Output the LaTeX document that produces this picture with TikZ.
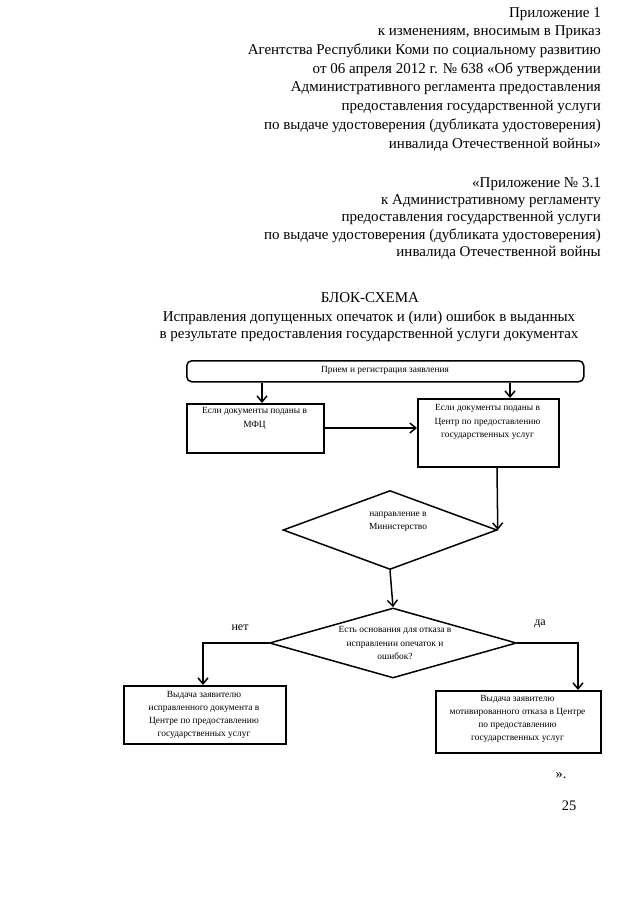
\documentclass[tikz,border=0pt]{standalone}
\usepackage{fontspec}
\setmainfont{Liberation Serif}
\usetikzlibrary{arrows.meta,shapes.geometric}
\begin{document}
\begin{tikzpicture}[x=1pt,y=-1pt,
  hdr/.style={anchor=north east,align=right,inner sep=0pt,font=\fontsize{15}{18.7}\selectfont},
  hdrb/.style={anchor=north east,align=right,inner sep=0pt,font=\fontsize{15}{17.4}\selectfont},
  ttl/.style={align=center,inner sep=0pt,font=\fontsize{15}{17.5}\selectfont},
  box/.style={draw,line width=1.5pt,inner sep=0pt,anchor=north west},
  btxt/.style={align=center,inner sep=0pt,font=\fontsize{9.4}{13.2}\selectfont},
  dia/.style={draw,diamond,line width=1.5pt,inner sep=0pt},
  arr/.style={line width=1.5pt,-{Straight Barb[length=6pt,width=10pt,line width=1.5pt]}},
  lbl/.style={inner sep=0pt,font=\fontsize{12}{14}\selectfont}]
\useasboundingbox[fill=white] (0,0) rectangle (640,905);

\node[hdr] (h1) at (601,7) {Приложение 1\\
к изменениям, вносимым в Приказ\\
Агентства Республики Коми по социальному развитию\\
от 06 апреля 2012 г. № 638 «Об утверждении\\
Административного регламента предоставления\\
предоставления государственной услуги\\
по выдаче удостоверения (дубликата удостоверения)\\
инвалида Отечественной войны»};

\node[hdrb] (h2) at (601,177) {«Приложение № 3.1\\
к Административному регламенту\\
предоставления государственной услуги\\
по выдаче удостоверения (дубликата удостоверения)\\
инвалида Отечественной войны};

\node[ttl] (t1) at (370,298) {БЛОК-СХЕМА};
\node[ttl] (t2) at (369,326) {Исправления допущенных опечаток и (или) ошибок в выданных\\
в результате предоставления государственной услуги документах};

% top rounded box
\node[box,rounded corners=5pt,minimum width=397pt,minimum height=21pt] (top) at (186,360) {};
\node[btxt] (topt) at (385,370.5) {Прием и регистрация заявления};

% left and right boxes
\node[box,minimum width=137pt,minimum height=49pt] (mfc) at (186,403) {};
\node[btxt,anchor=north] (mfct) at (254.5,407.5) {Если документы поданы в\\МФЦ};
\node[box,minimum width=141pt,minimum height=68pt] (cen) at (417,398) {};
\node[btxt,anchor=north] (cent) at (487.5,404.5) {Если документы поданы в\\Центр по предоставлению\\государственных услуг};

\coordinate (xa) at (262,0);
\coordinate (xb) at (510,0);
\coordinate (xc) at (497,0);
\draw[arr] (top.south -| xa) -- (mfc.north -| xa);
\draw[arr] (top.south -| xb) -- (cen.north -| xb);
\draw[arr] (mfc.east |- 0,428) -- (cen.west |- 0,428);

% diamond 1
\node[dia,minimum width=214pt,minimum height=79pt] (d1) at (390,530) {};
\node[btxt] (d1t) at (398,522) {направление в\\Министерство};
\draw[arr] (cen.south -| xc) -- (d1.east);

% diamond 2
\node[dia,minimum width=247pt,minimum height=70pt] (d2) at (393,643) {};
\node[btxt] (d2t) at (395,643) {Есть основания для отказа в\\исправлении опечаток и\\ошибок?};
\draw[arr] (d1.south) -- (d2.north);

% bottom boxes
\node[box,minimum width=162pt,minimum height=58pt] (bl) at (123,685) {};
\node[btxt,anchor=north] (blt) at (204,691) {Выдача заявителю\\исправленного документа в\\Центре по предоставлению\\государственных услуг};
\node[box,minimum width=165pt,minimum height=62pt] (br) at (435,690) {};
\node[btxt,anchor=north] (brt) at (517.5,695) {Выдача заявителю\\мотивированного отказа в Центре\\по предоставлению\\государственных услуг};

\coordinate (xl) at (203,0);
\coordinate (xr) at (578,0);
\draw[arr] (d2.west) -- (d2.west -| xl) -- (bl.north -| xl);
\draw[arr] (d2.east) -- (d2.east -| xr) -- (br.north -| xr);

\node[lbl] (no) at (240,628) {нет};
\node[lbl] (yes) at (540,624) {да};

\node[lbl,font=\fontsize{14.5}{17}\selectfont] (q) at (561,776) {».};
\node[lbl,font=\fontsize{14.5}{17}\selectfont] (pg) at (569,806) {25};
\end{tikzpicture}
\end{document}
